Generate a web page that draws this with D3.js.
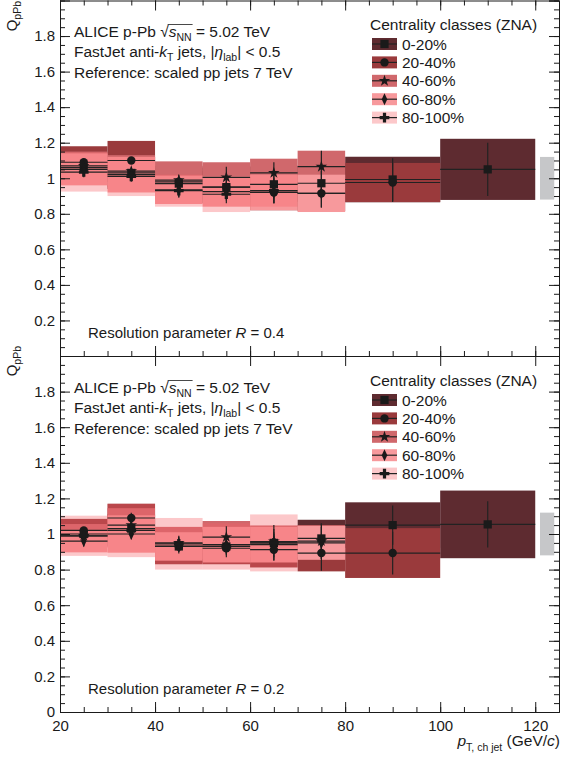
<!DOCTYPE html>
<html>
<head>
<meta charset="utf-8">
<script src="https://cdn.jsdelivr.net/npm/d3@7"></script>
<style>
  body { margin: 0; background: #fff; }
  text { font-family: "Liberation Sans", Arial, sans-serif; fill: #1a1a1a; }
</style>
</head>
<body>
<div id="chart"></div>
<script>
// bin edges in pT (GeV/c) and centrality classes
const binEdges = [20, 30, 40, 50, 60, 70, 80, 100, 120];
const classLabels = ["0-20%", "20-40%", "40-60%", "60-80%", "80-100%"];
const xTicks = [20, 40, 60, 80, 100, 120];

// R = 0.4 : central value, stat. error, syst. error per class
const r04Val0 = [1.06, 1.03, 0.97, 0.95, 0.966, 0.972, 0.993, 1.05];
const r04Stat0 = [0.02, 0.02, 0.03, 0.03, 0.05, 0.07, 0.12, 0.15];
const r04Sys0 = [0.08, 0.09, 0.09, 0.09, 0.10, 0.10, 0.128, 0.172];
const r04Val1 = [1.09, 1.10, 0.98, 0.95, 0.92, 0.915, 0.976];
const r04Stat1 = [0.02, 0.02, 0.03, 0.04, 0.06, 0.08, 0.11];
const r04Sys1 = [0.09, 0.11, 0.09, 0.09, 0.10, 0.10, 0.11];
const r04Val2 = [1.07, 1.04, 0.99, 1.005, 1.03, 1.065];
const r04Stat2 = [0.02, 0.02, 0.03, 0.06, 0.06, 0.09];
const r04Sys2 = [0.08, 0.09, 0.105, 0.085, 0.08, 0.09];
const r04Val3 = [1.05, 1.02, 0.935, 0.925, 0.92, 0.915];
const r04Stat3 = [0.02, 0.03, 0.04, 0.05, 0.06, 0.08];
const r04Sys3 = [0.09, 0.10, 0.08, 0.085, 0.10, 0.105];
const r04Val4 = [1.035, 1.01, 0.93, 0.91, 0.93];
const r04Stat4 = [0.03, 0.03, 0.04, 0.05, 0.07];
const r04Sys4 = [0.11, 0.11, 0.09, 0.10, 0.09];

// R = 0.2
const r02Val0 = [1.00, 1.03, 0.93, 0.93, 0.95, 0.975, 1.05, 1.054];
const r02Stat0 = [0.02, 0.03, 0.03, 0.04, 0.05, 0.08, 0.11, 0.13];
const r02Sys0 = [0.07, 0.08, 0.09, 0.09, 0.09, 0.105, 0.128, 0.19];
const r02Val1 = [1.02, 1.09, 0.93, 0.92, 0.912, 0.893, 0.893];
const r02Stat1 = [0.02, 0.03, 0.03, 0.04, 0.06, 0.10, 0.12];
const r02Sys1 = [0.065, 0.08, 0.10, 0.09, 0.10, 0.103, 0.14];
const r02Val2 = [0.99, 1.05, 0.95, 0.983, 0.958, 0.96];
const r02Stat2 = [0.02, 0.03, 0.04, 0.06, 0.07, 0.10];
const r02Sys2 = [0.066, 0.095, 0.09, 0.09, 0.09, 0.09];
const r02Val3 = [0.96, 1.00, 0.93, 0.94, 0.94, 0.95];
const r02Stat3 = [0.03, 0.03, 0.04, 0.05, 0.07, 0.09];
const r02Sys3 = [0.063, 0.105, 0.08, 0.10, 0.10, 0.095];
const r02Val4 = [0.99, 1.02, 0.945, 0.93, 0.95];
const r02Stat4 = [0.03, 0.04, 0.04, 0.06, 0.10];
const r02Sys4 = [0.113, 0.15, 0.145, 0.13, 0.16];

// normalisation uncertainty box
const normBox = [121, 124, 0.88, 1.12];

function init() {
    const width = 561, height = 763;
    const svg = d3.select("#chart").append("svg")
        .attr("width", width).attr("height", height);

    // fill colours; the most peripheral class is drawn see-through on top
    const fills = ["#5e2b30", "#9a3a3c", "#d0686c", "#f7999c", "#f66268"];
    const alphas = [1, 1, 1, 1, 0.35];
    const markers = [
        {type: d3.symbolSquare, size: 68, sx: 1},
        {type: d3.symbolCircle, size: 56, sx: 1},
        {type: d3.symbolStar, size: 42, sx: 1},
        {type: d3.symbolDiamond, size: 42, sx: 0.8},
        {type: d3.symbolCross, size: 52, sx: 1}
    ];
    const fs = 15.5;

    const x = d3.scaleLinear().domain([20, 125]).range([60, 559]);

    // small helper for text with sub-/superscripts and italics
    function rich(g, x0, y0, parts, size, anchor) {
        const t = g.append("text").attr("x", x0).attr("y", y0)
            .style("font-size", size + "px")
            .attr("text-anchor", anchor || "start");
        let cur = 0;
        const nodes = parts.map(p => {
            const d = p.d || 0;
            const ts = t.append("tspan").text(p.t);
            if (d !== cur) ts.attr("dy", d - cur);
            cur = d;
            if (p.it) ts.style("font-style", "italic");
            if (p.s) ts.style("font-size", p.s + "px");
            return ts.node();
        });
        return {t, nodes};
    }

    function drawMarker(g, cx, cy, ci) {
        const m = markers[ci];
        g.append("path")
            .attr("d", d3.symbol().type(m.type).size(m.size)())
            .attr("transform", `translate(${cx},${cy}) scale(${m.sx},1)`)
            .attr("fill", "#1a1a1a");
    }

    function drawPanel(cfg) {
        const g = svg.append("g");
        const y = d3.scaleLinear().domain([0, 2]).range(cfg.yRange);
        const [top, bottom] = [cfg.yRange[1], cfg.yRange[0]];

        // systematic boxes
        cfg.vals.forEach((vals, ci) => {
            vals.forEach((v, i) => {
                const s = cfg.sys[ci][i];
                g.append("rect")
                    .attr("x", x(binEdges[i]))
                    .attr("width", x(binEdges[i + 1]) - x(binEdges[i]))
                    .attr("y", y(v + s))
                    .attr("height", y(v - s) - y(v + s))
                    .attr("fill", fills[ci])
                    .attr("fill-opacity", alphas[ci]);
            });
        });

        // normalisation box
        g.append("rect")
            .attr("x", x(normBox[0])).attr("width", x(normBox[1]) - x(normBox[0]))
            .attr("y", y(normBox[3])).attr("height", y(normBox[2]) - y(normBox[3]))
            .attr("fill", "#c6c7c9");

        // stat. errors, bin width lines and markers
        cfg.vals.forEach((vals, ci) => {
            vals.forEach((v, i) => {
                const e = cfg.stat[ci][i];
                const xc = x((binEdges[i] + binEdges[i + 1]) / 2);
                g.append("line")
                    .attr("x1", x(binEdges[i])).attr("x2", x(binEdges[i + 1]))
                    .attr("y1", y(v)).attr("y2", y(v))
                    .attr("stroke", "#222").attr("stroke-width", 1.2);
                g.append("line")
                    .attr("x1", xc).attr("x2", xc)
                    .attr("y1", y(v - e)).attr("y2", y(v + e))
                    .attr("stroke", "#222").attr("stroke-width", 1.2);
            });
        });
        cfg.vals.forEach((vals, ci) => {
            vals.forEach((v, i) => {
                drawMarker(g, x((binEdges[i] + binEdges[i + 1]) / 2), y(v), ci);
            });
        });

        // axes, ticks inside on all four sides
        const major = d3.range(0, 2.01, 0.2);
        const minor = d3.range(0, 2.01, 0.05);
        const xMinor = d3.range(20, 126, 5);
        const fmt = d => String(+d.toFixed(1));

        g.append("g").attr("transform", "translate(60,0)")
            .call(d3.axisLeft(y).tickValues(cfg.yLabels).tickSize(-10).tickPadding(5).tickFormat(fmt))
            .call(a => a.selectAll("text").style("font-size", "15px").attr("font-family", null));
        g.append("g").attr("transform", "translate(60,0)")
            .call(d3.axisLeft(y).tickValues(minor).tickSize(-5).tickFormat(""))
            .call(a => a.select(".domain").remove());
        g.append("g").attr("transform", "translate(559,0)")
            .call(d3.axisRight(y).tickValues(major).tickSize(-10).tickFormat(""));
        g.append("g").attr("transform", "translate(559,0)")
            .call(d3.axisRight(y).tickValues(minor).tickSize(-5).tickFormat(""))
            .call(a => a.select(".domain").remove());

        const bAxis = g.append("g").attr("transform", `translate(0,${bottom})`)
            .call(d3.axisBottom(x).tickValues(xTicks).tickSize(-10).tickPadding(8)
                .tickFormat(cfg.xLabels ? d3.format("d") : ""));
        bAxis.selectAll("text").style("font-size", "15px").attr("font-family", null);
        g.append("g").attr("transform", `translate(0,${bottom})`)
            .call(d3.axisBottom(x).tickValues(xMinor).tickSize(-5).tickFormat(""))
            .call(a => a.select(".domain").remove());
        g.append("g").attr("transform", `translate(0,${top})`)
            .call(d3.axisTop(x).tickValues(xTicks).tickSize(-10).tickFormat(""));
        if (cfg.topMinor) {
            g.append("g").attr("transform", `translate(0,${top})`)
                .call(d3.axisTop(x).tickValues(xMinor).tickSize(-5).tickFormat(""))
                .call(a => a.select(".domain").remove());
        }
        g.selectAll(".domain, .tick line").attr("stroke", "#1a1a1a");

        // header text
        const tx = 74, ty = cfg.off + 37;
        const l1 = rich(g, tx, ty, [
            {t: "ALICE p-Pb "}, {t: "\u221A"}, {t: "s", it: true},
            {t: "NN", d: 4, s: 10.5}, {t: " = 5.02 TeV", d: 0}
        ], fs);
        const sNode = l1.nodes[2], nnNode = l1.nodes[3];
        const ox0 = sNode.getStartPositionOfChar(0).x - 1;
        const ox1 = nnNode.getEndPositionOfChar(1).x + 1;
        g.append("line").attr("x1", ox0).attr("x2", ox1)
            .attr("y1", ty - 12.5).attr("y2", ty - 12.5)
            .attr("stroke", "#1a1a1a").attr("stroke-width", 0.8);

        rich(g, tx, ty + 20, [
            {t: "FastJet anti-"}, {t: "k", it: true}, {t: "T", d: 4, s: 10.5},
            {t: " jets, |", d: 0}, {t: "\u03B7", it: true}, {t: "lab", d: 4, s: 10.5},
            {t: "| < 0.5", d: 0}
        ], fs);
        rich(g, tx, ty + 41, [{t: "Reference: scaled pp jets 7 TeV"}], fs);

        rich(g, 88, cfg.off + 338, [{t: "Resolution parameter "}, {t: "R", it: true}, {t: " = " + cfg.R}], 15);

        // y title
        const yt = g.append("g").attr("transform", `translate(17,${cfg.ytY}) rotate(-90)`);
        rich(yt, 0, 0, [{t: "Q"}, {t: "pPb", d: 4, s: 10.5}], 15, "end");

        // legend
        const lx = 372, ly = cfg.off + 44;
        rich(g, 370, ly - 14, [{t: "Centrality classes (ZNA)"}], fs);
        classLabels.forEach((lab, ci) => {
            const cy = ly + ci * 18.4;
            g.append("rect").attr("x", lx).attr("y", cy - 6).attr("width", 25).attr("height", 12)
                .attr("fill", fills[ci]).attr("fill-opacity", alphas[ci]);
            g.append("line").attr("x1", lx).attr("x2", lx + 25).attr("y1", cy).attr("y2", cy)
                .attr("stroke", "#222").attr("stroke-width", 1.2);
            drawMarker(g, lx + 12.5, cy, ci);
            rich(g, 402, cy + 5.5, [{t: lab}], fs);
        });
    }

    drawPanel({
        off: 0, yRange: [356, 0.5],
        yLabels: [0.2, 0.4, 0.6, 0.8, 1.0, 1.2, 1.4, 1.6, 1.8],
        vals: [r04Val0, r04Val1, r04Val2, r04Val3, r04Val4],
        stat: [r04Stat0, r04Stat1, r04Stat2, r04Stat3, r04Stat4],
        sys: [r04Sys0, r04Sys1, r04Sys2, r04Sys3, r04Sys4],
        R: "0.4", ytY: 1, xLabels: false, topMinor: true
    });
    drawPanel({
        off: 356, yRange: [712, 356],
        yLabels: [0, 0.2, 0.4, 0.6, 0.8, 1.0, 1.2, 1.4, 1.6, 1.8],
        vals: [r02Val0, r02Val1, r02Val2, r02Val3, r02Val4],
        stat: [r02Stat0, r02Stat1, r02Stat2, r02Stat3, r02Stat4],
        sys: [r02Sys0, r02Sys1, r02Sys2, r02Sys3, r02Sys4],
        R: "0.2", ytY: 346, xLabels: true, topMinor: false
    });

    // x title
    rich(svg, 560, 746, [
        {t: "p", it: true}, {t: "T, ch jet", d: 5, s: 10.5}, {t: " (GeV/", d: 0},
        {t: "c", it: true}, {t: ")"}
    ], 15.5, "end");
}
window.onload = init;
</script>
</body>
</html>
